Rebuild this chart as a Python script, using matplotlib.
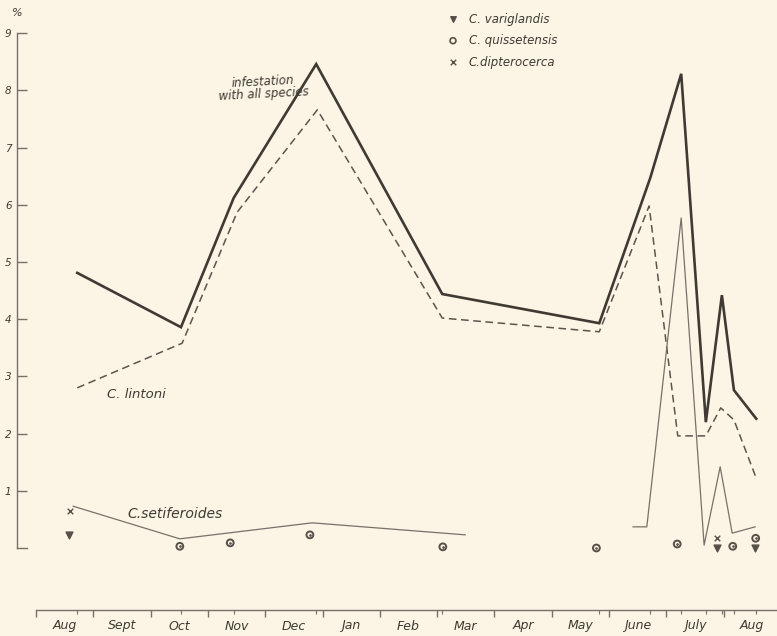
import matplotlib
matplotlib.use("Agg")
import matplotlib.pyplot as plt

# x in months from the start of August (0 = 1 Aug), y in per cent
months = ["Aug", "Sept", "Oct", "Nov", "Dec", "Jan", "Feb",
          "Mar", "Apr", "May", "June", "July", "Aug"]

all_x = [0.72, 2.53, 3.45, 4.89, 7.09, 9.83, 10.72, 11.26, 11.69, 11.97, 12.18, 12.57]
all_y = [4.81, 3.86, 6.12, 8.46, 4.44, 3.93, 6.47, 8.29, 2.20, 4.42, 2.76, 2.26]

lintoni_x = [0.72, 2.55, 3.51, 4.91, 7.09, 9.83, 10.70, 11.20, 11.69, 11.95, 12.18, 12.57]
lintoni_y = [2.80, 3.58, 5.87, 7.66, 4.02, 3.78, 5.98, 1.96, 1.96, 2.45, 2.24, 1.22]

setif_x = [0.65, 2.51, 4.82, 7.49]
setif_y = [0.73, 0.16, 0.44, 0.23]

setif2_x = [10.42, 10.66, 11.26, 11.66, 11.94, 12.15, 12.55]
setif2_y = [0.37, 0.37, 5.77, 0.05, 1.42, 0.26, 0.37]

varig_x = [0.58, 11.88, 12.55]
varig_y = [0.23, 0.00, 0.00]

quiss_x = [2.51, 3.39, 4.78, 7.10, 9.78, 11.19, 12.16, 12.56]
quiss_y = [0.03, 0.09, 0.23, 0.02, 0.00, 0.07, 0.03, 0.17]

dipt_x = [0.60, 11.88]
dipt_y = [0.65, 0.17]

ink = "#3f3a33"
grey = "#77716a"
bg = "#fcf4e4"

fig = plt.figure(figsize=(7.77, 6.36), dpi=100, facecolor=bg)
ax = fig.add_axes([0, 0, 1, 1], facecolor=bg)
ax.set_xlim(-36 / 57.3, 741 / 57.3)
ax.set_ylim(-88 / 57.2, 548 / 57.2)

ax.plot(all_x, all_y, color=ink, lw=1.9, solid_joinstyle="miter")
ax.plot(lintoni_x, lintoni_y, color="#5a554d", lw=1.1, dashes=(5, 3))
ax.plot(setif_x, setif_y, color=grey, lw=0.9)
ax.plot(setif2_x, setif2_y, color=grey, lw=0.9)

ax.scatter(varig_x, varig_y, marker="v", s=24, color="#55504a", zorder=3)
ax.scatter(quiss_x, quiss_y, marker="o", s=24, facecolor="none",
           edgecolor="#55504a", linewidth=1.4, zorder=3)
ax.scatter(quiss_x, quiss_y, marker=".", s=3, color="#55504a", zorder=3)
ax.scatter(dipt_x, dipt_y, marker="x", s=16, color="#55504a", linewidth=1.0, zorder=3)

# legend drawn as in the original (top right)
fs = dict(fontsize=8.5, style="italic", color=ink)
leg = [("v", "C. variglandis"), ("o", "C. quissetensis"), ("x", "C.dipterocerca")]
for i, (mk, name) in enumerate(leg):
    yy = 0.970 - i * 0.034
    if mk == "o":
        ax.scatter([0.583], [yy], transform=ax.transAxes, marker="o", s=18,
                   facecolor="none", edgecolor="#55504a", linewidth=1.2)
    else:
        ax.scatter([0.583], [yy], transform=ax.transAxes, marker=mk, s=16,
                   color="#55504a", linewidth=1.0)
    ax.text(0.603, yy, name, transform=ax.transAxes, va="center", **fs)

ax.text(3.96, 8.04, "infestation\nwith all species", ha="center", va="center",
        fontsize=8.5, style="italic", color=ink, linespacing=0.95, rotation=3)
ax.text(1.24, 2.68, "C. lintoni", fontsize=9.5, style="italic", color=ink, va="center")
ax.text(1.6, 0.6, "C.setiferoides", fontsize=10, style="italic", color=ink, va="center")
ax.text(-0.32, 9.36, "%", fontsize=8, style="italic", color=ink, ha="center", va="center")

# y axis
for s in ["top", "right"]:
    ax.spines[s].set_visible(False)
ax.spines["left"].set_position(("data", -0.33))
ax.spines["left"].set_bounds(0, 9)
ax.spines["left"].set_color(grey)
ax.spines["left"].set_linewidth(1.0)
ax.set_yticks(range(1, 10))
ax.set_yticklabels([str(i) for i in range(1, 10)], fontsize=7.5, style="italic", color=ink)
ax.tick_params(axis="y", direction="in", length=7, width=1.0, color=grey, pad=4)
ax.plot([-0.33, -0.15], [0, 0], color=grey, lw=1.0)

# x axis (months)
ax.spines["bottom"].set_position(("data", -62 / 57.2))
ax.spines["bottom"].set_bounds(0, 741 / 57.3)
ax.spines["bottom"].set_color(grey)
ax.spines["bottom"].set_linewidth(1.0)
ax.set_xticks(range(0, 13))
ax.set_xticklabels([])
ax.set_xticks(all_x, minor=True)
ax.tick_params(axis="x", which="major", direction="out", length=5, width=1.0, color=grey)
ax.tick_params(axis="x", which="minor", direction="out", length=3, width=0.8, color=grey)
for i, m in enumerate(months):
    ax.text(i + 0.5, -78 / 57.2, m, ha="center", va="center",
            fontsize=9, style="italic", color=ink)

fig.savefig("out.png", dpi=100, facecolor=bg)
